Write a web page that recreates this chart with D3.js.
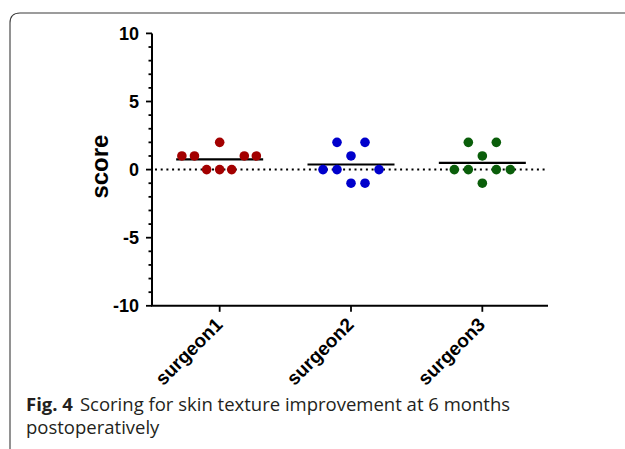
<!DOCTYPE html>
<html><head><meta charset="utf-8">
<script src="https://cdn.jsdelivr.net/npm/d3@7"></script>
<style>html,body{margin:0;padding:0;background:#fff;}svg{display:block;}</style>
</head><body>
<script>
// ---- data ----
const categories = ["surgeon1", "surgeon2", "surgeon3"];
const surgeon1 = [1, 1, 2, 0, 0, 0, 1, 1];
const surgeon2 = [2, 2, 1, 0, 0, 0, -1, -1];
const surgeon3 = [2, 2, 1, 0, 0, 0, 0, -1];
// horizontal scatter slot of each point (in dot-spacing units, as laid out in the figure)
const slots1 = [-2.7, -1.8, 0, -0.93, 0, 0.86, 1.76, 2.62];
const slots2 = [-1, 1, 0, -2, -1, 2, 0, 1];
const slots3 = [-1, 1, 0, -2, -1, 1, 2, 0];
const colors = ["#a30000", "#0000cc", "#0a5e0a"];
const yTicks = [-10, -5, 0, 5, 10];
const caption1Bold = "Fig. 4";
const caption1 = "Scoring for skin texture improvement at 6 months";
const caption2 = "postoperatively";

const W = 625, H = 449;
const svg = d3.select("body").append("svg").attr("width", W).attr("height", H);

// frame (rounded top-left corner)
svg.append("path")
  .attr("d", "M10,449 L10,23 Q10,13 20,13 L625,13")
  .attr("fill", "none").attr("stroke", "#3a3a3a").attr("stroke-width", 1.1);

const axX0 = 152, axX1 = 548;
const y = d3.scaleLinear().domain([-10, 10]).range([305.8, 33.4]);
const x = d3.scalePoint().domain(categories).range([154, 548]).padding(0.5);
const step = 14;

const g = svg.append("g");

// zero dotted line
g.append("line").attr("x1", axX0 + 3).attr("x2", axX1).attr("y1", y(0)).attr("y2", y(0))
  .attr("stroke", "#000").attr("stroke-width", 2).attr("stroke-dasharray", "2,3.7");

// y axis
g.append("line").attr("x1", axX0).attr("x2", axX0).attr("y1", y(10)).attr("y2", y(-10))
  .attr("stroke", "#000").attr("stroke-width", 2);
d3.range(-10, 11, 1).forEach(v => {
  const major = v % 5 === 0;
  g.append("line").attr("x1", axX0).attr("x2", axX0 - (major ? 6 : 3.5))
    .attr("y1", y(v)).attr("y2", y(v)).attr("stroke", "#000").attr("stroke-width", 1.8);
});
g.selectAll(".ytl").data(yTicks).enter().append("text")
  .attr("x", 139).attr("y", d => y(d)).attr("dy", "0.36em")
  .attr("text-anchor", "end")
  .attr("font-family", "Liberation Sans, Arial, sans-serif").attr("font-weight", "bold")
  .attr("font-size", 18).text(d => d);

// x axis
g.append("line").attr("x1", axX0 - 1).attr("x2", axX1).attr("y1", y(-10)).attr("y2", y(-10))
  .attr("stroke", "#000").attr("stroke-width", 2);
categories.forEach(c => {
  g.append("line").attr("x1", x(c)).attr("x2", x(c)).attr("y1", y(-10)).attr("y2", y(-10) + 6)
    .attr("stroke", "#000").attr("stroke-width", 1.8);
});
g.selectAll(".xtl").data(categories).enter().append("text")
  .attr("transform", d => `translate(${x(d) + 4},${y(-10) + 20}) rotate(-45)`)
  .attr("text-anchor", "end")
  .attr("font-family", "Liberation Sans, Arial, sans-serif").attr("font-weight", "bold")
  .attr("font-size", 19).text(d => d);

// y label
g.append("text").attr("transform", `translate(108,${y(0) - 3}) rotate(-90)`)
  .attr("text-anchor", "middle")
  .attr("font-family", "Liberation Sans, Arial, sans-serif").attr("font-weight", "bold")
  .attr("font-size", 24).text("score");

// points + means
const series = [surgeon1, surgeon2, surgeon3];
const slots = [slots1, slots2, slots3];
series.forEach((vals, i) => {
  const cx = x(categories[i]);
  const m = d3.mean(vals);
  g.append("line").attr("x1", cx - 43.5).attr("x2", cx + 43.5)
    .attr("y1", y(m)).attr("y2", y(m)).attr("stroke", "#000").attr("stroke-width", 2.2);
  g.selectAll(".pt" + i).data(vals).enter().append("circle")
    .attr("cx", (d, j) => cx + slots[i][j] * step)
    .attr("cy", d => y(d)).attr("r", 4.8).attr("fill", colors[i]);
});

// caption
const cap = svg.append("text").attr("x", 26).attr("y", 411)
  .attr("font-family", "Open Sans, Noto Sans, sans-serif").attr("font-size", 18.5)
  .attr("fill", "#231f20");
cap.append("tspan").attr("font-weight", "bold").text(caption1Bold);
cap.append("tspan").attr("dx", 7).text(caption1);
svg.append("text").attr("x", 26).attr("y", 434)
  .attr("font-family", "Open Sans, Noto Sans, sans-serif").attr("font-size", 18.5)
  .attr("fill", "#231f20").text(caption2);
</script>
</body></html>
